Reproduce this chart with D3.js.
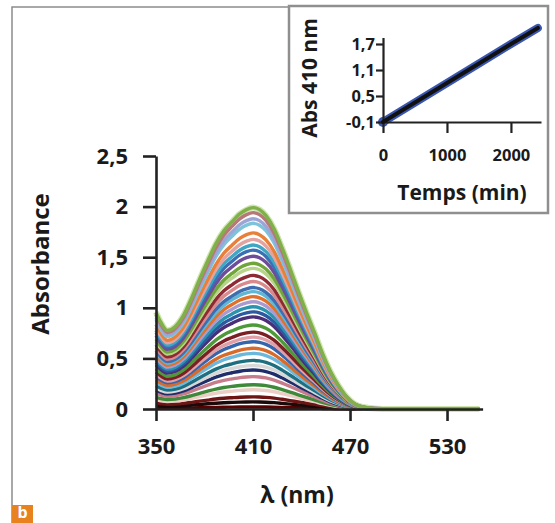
<!DOCTYPE html>
<html>
<head>
<meta charset="utf-8">
<script src="https://cdn.jsdelivr.net/npm/d3@7"></script>
<style>
  html, body { margin: 0; padding: 0; background: #fff; }
  svg { display: block; }
  text { font-family: "Open Sans", sans-serif; font-weight: 700; fill: #1a1a1a; }
</style>
</head>
<body>
<svg id="chart" width="555" height="523"></svg>
<script>
// ---------- data ----------
const wavelengths   = [350, 353, 357, 362, 367, 372, 377, 382, 387, 392, 397, 402, 406, 410, 414, 418, 423, 428, 433, 438, 443, 448, 453, 458, 463, 468, 473, 478, 485, 495, 510, 530, 550];
const finalSpectrum = [0.96, 0.86, 0.78, 0.82, 0.93, 1.10, 1.29, 1.47, 1.64, 1.77, 1.86, 1.94, 1.98, 2.00, 1.98, 1.92, 1.79, 1.60, 1.39, 1.17, 0.96, 0.76, 0.55, 0.37, 0.23, 0.12, 0.05, 0.02, 0.005, 0, 0, 0, 0];
// absorbance at 410 nm of each recorded spectrum (first -> last)
const peakAbs410 = [0.02, 0.07, 0.12, 0.19, 0.24, 0.32, 0.385, 0.43, 0.48, 0.55, 0.60, 0.665, 0.71, 0.76, 0.83, 0.91, 0.96, 1.01, 1.06, 1.11, 1.16, 1.20, 1.26, 1.32, 1.39, 1.44, 1.51, 1.57, 1.62, 1.676, 1.74, 1.835, 1.88, 1.94, 1.99];
const curveColors = ["#5A0000", "#1A0A0A", "#6B1515", "#EBCFC4", "#3E8A3A", "#C77C8C", "#1F2E6B", "#D8D8D8", "#1E6F80", "#6CB8DC", "#D86A2A", "#3566AD", "#E0A0A8", "#7A1F24", "#4E9A3A", "#4B2E78", "#2C5AA0", "#2A93AE", "#A99BD0", "#E0702A", "#5FB7D4", "#3E6DB0", "#D98A8C", "#8E2A33", "#B8D48A", "#6FA53A", "#6E4C9A", "#3A6FB3", "#3FA6C4", "#E3A3A0", "#E8803A", "#7DC3DA", "#9DA5D6", "#B7787A", "#7FB04A"];
const xTicks = [350, 410, 470, 530];
const yTicks = [0, 0.5, 1, 1.5, 2, 2.5];

const insetTime = [0, 500, 1000, 1500, 2000, 2420];
const insetAbs  = [-0.1, 0.35, 0.80, 1.25, 1.70, 2.07];
const insetXTicks = [0, 1000, 2000];
const insetYTicks = [-0.1, 0.5, 1.1, 1.7];

// ---------- setup ----------
const svg = d3.select("#chart");
const fmt = d => String(d).replace(".", ",");

// frame
svg.append("path").attr("d", "M12,523 L12,7 L290,7")
  .attr("fill", "none").attr("stroke", "#8c8c8c").attr("stroke-width", 1.5);

// main scales
const x = d3.scaleLinear().domain([350, 552]).range([156, 482.6]);
const y = d3.scaleLinear().domain([0, 2.5]).range([409, 156]);

const line = d3.line()
  .x(d => x(d[0])).y(d => y(d[1]))
  .curve(d3.curveMonotoneX);

const maxFinal = d3.max(finalSpectrum);
const spectra = peakAbs410.map(p => wavelengths.map((w, j) => [w, finalSpectrum[j] * p / maxFinal]));

const gCurves = svg.append("g");
// glow of last spectrum
gCurves.append("path").datum(spectra[spectra.length - 1])
  .attr("d", line).attr("fill", "none")
  .attr("stroke", "#CFE4AE").attr("stroke-width", 6).attr("stroke-linejoin", "round");
spectra.forEach((s, i) => {
  gCurves.append("path").datum(s)
    .attr("d", line).attr("fill", "none")
    .attr("stroke", curveColors[i]).attr("stroke-width", 3.4)
    .attr("stroke-linejoin", "round");
});

// axes
const xAxis = svg.append("g").attr("transform", "translate(0,409)")
  .call(d3.axisBottom(x).tickValues(xTicks).tickSize(12).tickPadding(17).tickSizeOuter(0));
const yAxis = svg.append("g").attr("transform", "translate(156,0)")
  .call(d3.axisLeft(y).tickValues(yTicks).tickFormat(fmt).tickSize(13).tickPadding(15).tickSizeOuter(0));
[xAxis, yAxis].forEach(g => {
  g.selectAll("path.domain").attr("stroke", "#222").attr("stroke-width", 2.6);
  g.selectAll(".tick line").attr("stroke", "#222").attr("stroke-width", 2.6);
  g.selectAll(".tick text").style("font-size", "22px").style("font-family", "'Open Sans', sans-serif")
    .style("font-weight", 700).attr("fill", "#1a1a1a");
});

svg.append("text").attr("transform", "translate(49,264) rotate(-90)")
  .attr("text-anchor", "middle").style("font-size", "24px").text("Absorbance");
svg.append("text").attr("x", 297).attr("y", 503)
  .attr("text-anchor", "middle").style("font-size", "23px").text("λ (nm)");

// panel letter
svg.append("rect").attr("x", 12).attr("y", 505).attr("width", 21).attr("height", 18).attr("fill", "#E8821E");
svg.append("text").attr("x", 22.5).attr("y", 518).attr("text-anchor", "middle")
  .style("font-size", "16px").style("fill", "#fff").text("b");

// ---------- inset ----------
svg.append("rect").attr("x", 289).attr("y", 6).attr("width", 259).attr("height", 207)
  .attr("fill", "#fff").attr("stroke", "#8f8f8f").attr("stroke-width", 2.5);

const ix = d3.scaleLinear().domain([0, 2000]).range([383, 511]);
const iy = d3.scaleLinear().domain([-0.1, 1.7]).range([122, 44]);

const iLine = d3.line().x((d, i) => ix(insetTime[i])).y(d => iy(d));
svg.append("path").datum(insetAbs).attr("d", iLine).attr("fill", "none")
  .attr("stroke", "#3A56B0").attr("stroke-width", 8).attr("stroke-linecap", "round");
svg.append("circle").attr("cx", ix(insetTime[0])).attr("cy", iy(insetAbs[0])).attr("r", 5).attr("fill", "#3A56B0");

const ixAxis = svg.append("g").attr("transform", "translate(0,122)")
  .call(d3.axisBottom(ix.copy().domain([0, 2470]).range([383, 541])).tickValues(insetXTicks)
    .tickFormat(d3.format("d")).tickSize(11).tickPadding(16).tickSizeOuter(0));
const iyAxis = svg.append("g").attr("transform", "translate(383,0)")
  .call(d3.axisLeft(iy.copy().domain([-0.1, 1.85]).range([122, 37.5])).tickValues(insetYTicks).tickFormat(fmt)
    .tickSize(7).tickPadding(1).tickSizeOuter(0));
[ixAxis, iyAxis].forEach(g => {
  g.selectAll("path.domain").attr("stroke", "#222").attr("stroke-width", 2.2);
  g.selectAll(".tick line").attr("stroke", "#222").attr("stroke-width", 2.2);
  g.selectAll(".tick text").style("font-size", "16.5px").style("font-family", "'Open Sans', sans-serif")
    .style("font-weight", 700).attr("fill", "#1a1a1a");
});
iyAxis.selectAll(".tick text").attr("dy", "0.36em");

svg.append("path").datum(insetAbs).attr("d", iLine).attr("fill", "none")
  .attr("stroke", "#111").attr("stroke-width", 4).attr("stroke-linecap", "round");

svg.append("text").attr("transform", "translate(317,78) rotate(-90)")
  .attr("text-anchor", "middle").style("font-size", "21px").text("Abs 410 nm");
svg.append("text").attr("x", 462).attr("y", 200)
  .attr("text-anchor", "middle").style("font-size", "21px").text("Temps (min)");
</script>
</body>
</html>
